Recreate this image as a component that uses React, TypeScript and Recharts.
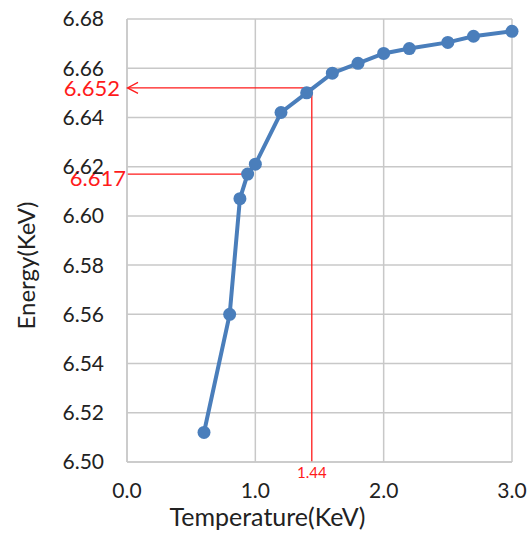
import { LineChart, Line, XAxis, YAxis, CartesianGrid, ReferenceLine, ReferenceDot } from 'recharts'

const temperature = [0.6, 0.8, 0.88, 0.94, 1.0, 1.2, 1.4, 1.6, 1.8, 2.0, 2.2, 2.5, 2.7, 3.0]
const energy = [6.512, 6.56, 6.607, 6.617, 6.621, 6.642, 6.65, 6.658, 6.662, 6.666, 6.668, 6.6705, 6.673, 6.675]
const xTicks = [0, 1, 2, 3]
const yTicks = [6.5, 6.52, 6.54, 6.56, 6.58, 6.6, 6.62, 6.64, 6.66, 6.68]

// red read-off marks
const markT = 1.44
const markHigh = 6.652
const markLow = 6.617
const markLowT = 0.94

const FONT = 'Lato, "Noto Sans", sans-serif'
const RED = '#ff1a1a'
const GRID = '#c8c8c8'

const data = temperature.map((t, i) => ({ t, e: energy[i] }))

export default function App() {
  return (
    <div style={{ position: 'absolute', left: 0, top: 0, background: '#fff' }}>
      <LineChart width={530} height={533} data={data} margin={{ top: 19, right: 18, left: 47, bottom: 0 }}>
        <CartesianGrid stroke={GRID} strokeWidth={1.5} />
        <XAxis
          type="number"
          dataKey="t"
          domain={[0, 3]}
          ticks={xTicks}
          tickFormatter={(v: number) => v.toFixed(1)}
          height={71}
          tickSize={0}
          tickMargin={21}
          axisLine={{ stroke: GRID, strokeWidth: 1.5 }}
          tick={{ fontSize: 21, fill: '#222', fontFamily: FONT }}
          label={{
            content: ({ viewBox }: any) => (
              <text
                x={viewBox.x + viewBox.width / 2 - 52}
                y={viewBox.y + 64}
                textAnchor="middle"
                fontSize={25}
                fontFamily={FONT}
                fill="#222"
              >
                Temperature(KeV)
              </text>
            ),
          }}
        />
        <YAxis
          type="number"
          domain={[6.5, 6.68]}
          ticks={yTicks}
          tickFormatter={(v: number) => v.toFixed(2)}
          width={80}
          tickSize={0}
          tickMargin={23}
          axisLine={{ stroke: GRID, strokeWidth: 1.5 }}
          tick={{ fontSize: 21, fill: '#222', fontFamily: FONT }}
          label={{
            content: ({ viewBox }: any) => {
              const x = viewBox.x - 22
              const y = viewBox.y + viewBox.height / 2 + 25
              return (
                <text
                  x={x}
                  y={y}
                  transform={`rotate(-90 ${x} ${y})`}
                  textAnchor="middle"
                  dominantBaseline="central"
                  fontSize={24}
                  fontFamily={FONT}
                  fill="#222"
                >
                  Energy(KeV)
                </text>
              )
            },
          }}
        />
        <ReferenceLine
          segment={[{ x: 0, y: markHigh }, { x: markT, y: markHigh }]}
          stroke={RED}
          strokeWidth={1.3}
        />
        <ReferenceLine
          segment={[{ x: markT, y: 6.5 }, { x: markT, y: markHigh }]}
          stroke={RED}
          strokeWidth={1.3}
        />
        <ReferenceLine
          segment={[{ x: 0, y: markLow }, { x: markLowT, y: markLow }]}
          stroke={RED}
          strokeWidth={1.3}
        />
        <Line
          type="linear"
          dataKey="e"
          stroke="#4a7ebb"
          strokeWidth={4}
          dot={{ r: 6.5, fill: '#4a7ebb', stroke: '#4a7ebb', strokeWidth: 0 }}
          isAnimationActive={false}
        />
        <ReferenceDot
          x={0}
          y={markHigh}
          ifOverflow="visible"
          shape={(p: any) => (
            <g>
              <path
                d={`M${p.cx + 11},${p.cy - 5.5} L${p.cx + 0.5},${p.cy} L${p.cx + 11},${p.cy + 5.5}`}
                fill="none"
                stroke={RED}
                strokeWidth={1.3}
              />
              <text x={p.cx - 7} y={p.cy} textAnchor="end" dominantBaseline="central" fontSize={22} fontFamily={FONT} fill={RED}>
                {markHigh.toFixed(3)}
              </text>
            </g>
          )}
        />
        <ReferenceDot
          x={0}
          y={markLow}
          ifOverflow="visible"
          shape={(p: any) => (
            <text x={p.cx - 1} y={p.cy + 3} textAnchor="end" dominantBaseline="central" fontSize={22} fontFamily={FONT} fill={RED}>
              {markLow.toFixed(3)}
            </text>
          )}
        />
        <ReferenceDot
          x={markT}
          y={6.5}
          ifOverflow="visible"
          shape={(p: any) => (
            <text x={p.cx} y={p.cy + 16} textAnchor="middle" fontSize={15} fontFamily={FONT} fill={RED}>
              {markT.toFixed(2)}
            </text>
          )}
        />
      </LineChart>
    </div>
  )
}
